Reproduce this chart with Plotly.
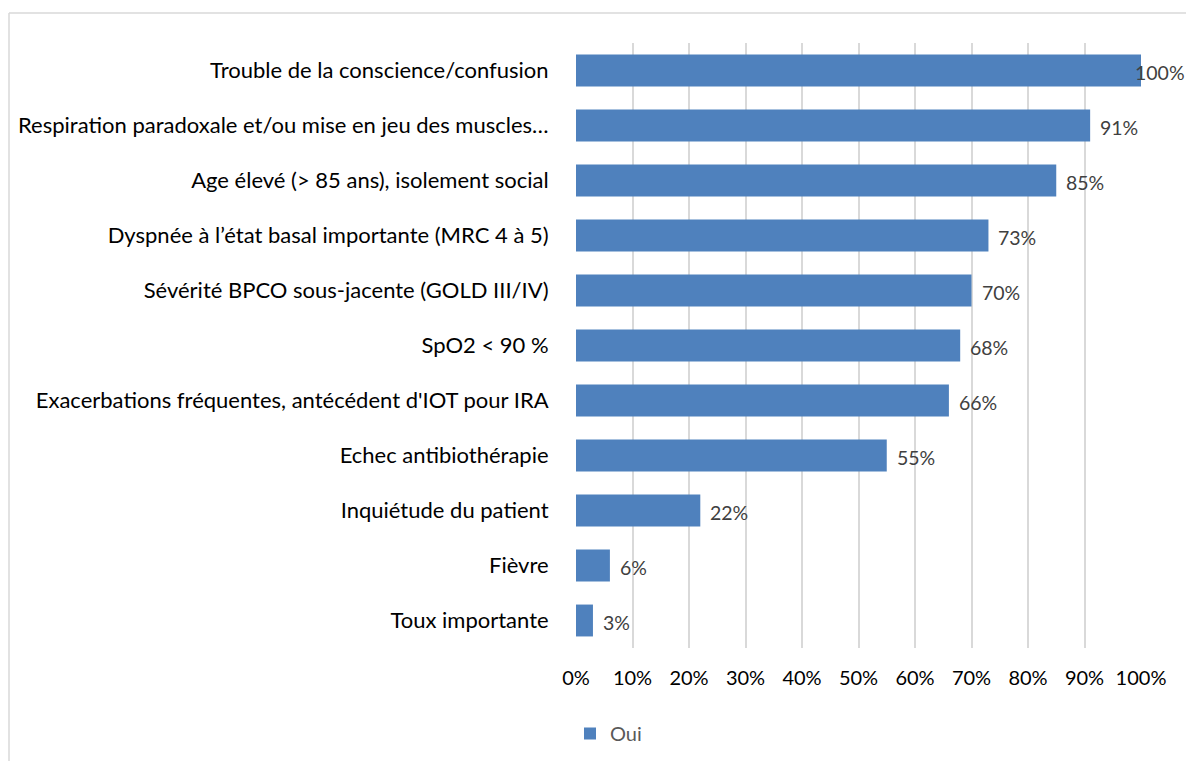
import plotly.graph_objects as go

categories = [
    "Trouble de la conscience/confusion",
    "Respiration paradoxale et/ou mise en jeu des muscles…",
    "Age élevé (> 85 ans), isolement social",
    "Dyspnée à l’état basal importante (MRC 4 à 5)",
    "Sévérité BPCO sous-jacente (GOLD III/IV)",
    "SpO2 < 90 %",
    "Exacerbations fréquentes, antécédent d'IOT pour IRA",
    "Echec antibiothérapie",
    "Inquiétude du patient",
    "Fièvre",
    "Toux importante",
]
values = [1.00, 0.91, 0.85, 0.73, 0.70, 0.68, 0.66, 0.55, 0.22, 0.06, 0.03]
value_labels = ["100%", "91%", "85%", "73%", "70%", "68%", "66%", "55%", "22%", "6%", "3%"]
tick_vals = [0, 0.1, 0.2, 0.3, 0.4, 0.5, 0.6, 0.7, 0.8, 0.9, 1.0]
tick_text = ["0%", "10%", "20%", "30%", "40%", "50%", "60%", "70%", "80%", "90%", "100%"]
series_name = "Oui"

W, H = 1186, 761
L, R, T, B = 576, 45, 43, 113
pw, ph = W - L - R, H - T - B

FONT = "Lato, 'Open Sans', sans-serif"
BLUE = "#4f81bd"

fig = go.Figure()
fig.add_trace(go.Bar(
    y=categories, x=values, orientation="h", name=series_name,
    marker=dict(color=BLUE, line=dict(width=0)),
    showlegend=True,
))

for c, v, t in zip(categories, values, value_labels):
    fig.add_annotation(
        x=v, y=c, text=t, showarrow=False, xanchor="left", yshift=-2,
        xshift=(-8 if v >= 1.0 else 8),
        font=dict(family=FONT, size=19.5, color="#404040"),
    )

def px_x(p):
    return (p - L) / pw

def px_y(p):
    return (H - B - p) / ph

fig.add_shape(type="line", xref="paper", yref="paper",
              x0=px_x(9), x1=px_x(W + 5), y0=px_y(13), y1=px_y(13),
              line=dict(color="#d9d9d9", width=1.5))
fig.add_shape(type="line", xref="paper", yref="paper",
              x0=px_x(9), x1=px_x(9), y0=px_y(13), y1=px_y(H + 5),
              line=dict(color="#d9d9d9", width=1.5))

fig.update_layout(
    width=W, height=H,
    margin=dict(l=L, r=R, t=T, b=B, autoexpand=False),
    paper_bgcolor="white", plot_bgcolor="white",
    bargap=0.42,
    font=dict(family=FONT, size=22, color="black"),
    xaxis=dict(range=[0, 1.0], tickvals=tick_vals, ticktext=tick_text,
               showgrid=True, gridcolor="#d9d9d9", gridwidth=1.5,
               zeroline=False, showline=False,
               ticks="outside", ticklen=12, tickcolor="rgba(0,0,0,0)",
               tickfont=dict(family=FONT, size=20, color="black")),
    yaxis=dict(autorange="reversed", showgrid=False, zeroline=False,
               showline=False, ticks="outside", ticklen=22,
               tickcolor="rgba(0,0,0,0)",
               tickfont=dict(family=FONT, size=22, color="black")),
    legend=dict(orientation="h", x=px_x(570), y=px_y(714), xanchor="left",
                yanchor="top", font=dict(family=FONT, size=20, color="#595959"),
                itemwidth=30, bgcolor="rgba(0,0,0,0)"),
)

fig.write_html("out.html", post_script="document.body.style.margin='0';",
               config={"displayModeBar": False})
